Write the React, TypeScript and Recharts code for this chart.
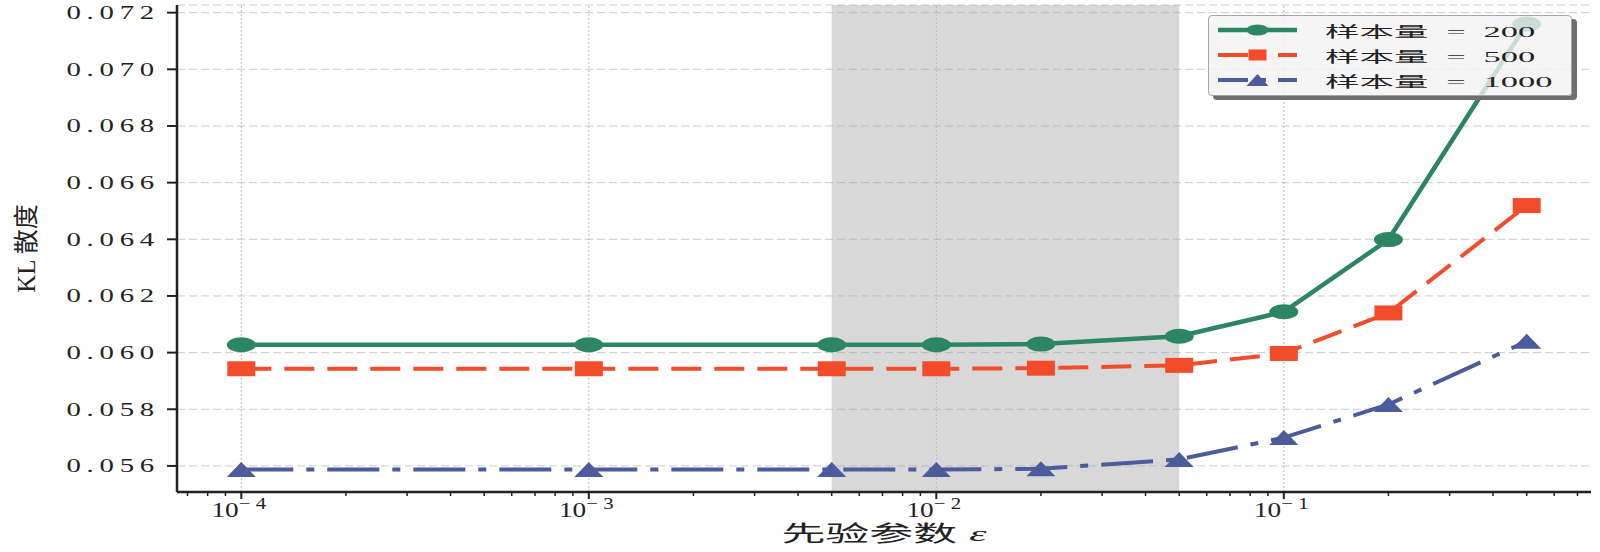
import React from 'react'
import {
  LineChart,
  Line,
  XAxis,
  YAxis,
  CartesianGrid,
  ReferenceArea,
  ReferenceLine,
  Legend,
  Label,
} from 'recharts'

const EPS = [1e-4, 1e-3, 5e-3, 1e-2, 2e-2, 5e-2, 1e-1, 2e-1, 5e-1]
const KL_200 = [0.06028, 0.06028, 0.06028, 0.06028, 0.0603, 0.06058, 0.06144, 0.06399, 0.0716]
const KL_500 = [0.05943, 0.05943, 0.05943, 0.05943, 0.05945, 0.05955, 0.05997, 0.0614, 0.06519]
const KL_1000 = [0.05587, 0.05587, 0.05587, 0.05587, 0.0559, 0.05623, 0.057, 0.05817, 0.0604]

const MAJOR_TICKS = [1e-4, 1e-3, 1e-2, 1e-1]
const MAJOR_EXPONENTS = ['−4', '−3', '−2', '−1']
const MINOR_TICKS = [
  7e-5, 8e-5, 9e-5,
  2e-4, 3e-4, 4e-4, 5e-4, 6e-4, 7e-4, 8e-4, 9e-4,
  2e-3, 3e-3, 4e-3, 5e-3, 6e-3, 7e-3, 8e-3, 9e-3,
  2e-2, 3e-2, 4e-2, 5e-2, 6e-2, 7e-2, 8e-2, 9e-2,
  2e-1, 3e-1, 4e-1, 5e-1, 6e-1, 7e-1,
]
const Y_TICKS = [0.056, 0.058, 0.06, 0.062, 0.064, 0.066, 0.068, 0.07, 0.072]
const X_DOMAIN = [6.53e-5, 0.7656]
const Y_DOMAIN = [0.05508, 0.07227]
const SHADE = [5e-3, 5e-2]

const X_LABEL = '先验参数'
const Y_LABEL = 'KL 散度'

const SERIES = [
  { key: 'n200', name: '样本量 = 200', color: '#2d8663', shape: 'circle', dash: undefined, width: 4.5 },
  { key: 'n500', name: '样本量 = 500', color: '#f24c2a', shape: 'square', dash: '30 13', width: 4 },
  { key: 'n1000', name: '样本量 = 1000', color: '#4b5b9b', shape: 'triangle', dash: '52 13 8 13', width: 4 },
]

const data = EPS.map((eps, i) => ({
  eps,
  n200: KL_200[i],
  n500: KL_500[i],
  n1000: KL_1000[i],
}))

const FONT = '"Liberation Serif", "Noto Sans CJK SC", serif'
const INK = '#222'

function Marker({ shape, cx, cy, color, w, h }: any) {
  if (shape === 'circle') return <ellipse cx={cx} cy={cy} rx={w / 2} ry={h / 2} fill={color} />
  if (shape === 'square') return <rect x={cx - w / 2} y={cy - h / 2} width={w} height={h} fill={color} />
  return (
    <polygon
      points={`${cx},${cy - h / 2} ${cx - w / 2},${cy + h / 2} ${cx + w / 2},${cy + h / 2}`}
      fill={color}
    />
  )
}

const makeDot = (s: any) => (p: any) => (
  <Marker key={p.key ?? `${s.key}-${p.index}`} shape={s.shape} cx={p.cx} cy={p.cy} color={s.color} w={s.shape === 'square' ? 28 : 29} h={15} />
)

function YTick({ x, y, payload }: any) {
  return (
    <text
      transform={`translate(${x},${y + 6.5}) scale(1.6,1)`}
      textAnchor="end"
      fontFamily={FONT}
      fontSize={18}
      fill={INK}
      style={{ letterSpacing: 3.6 }}
    >
      {payload.value.toFixed(3)}
    </text>
  )
}

function XTick({ x, y, payload }: any) {
  const i = MAJOR_TICKS.indexOf(payload.value)
  const major = i >= 0
  return (
    <g>
      <line x1={x} x2={x} y1={y} y2={y + (major ? 7 : 4)} stroke={INK} strokeWidth={major ? 2 : 1.5} />
      {major && (
        <text transform={`translate(${x},${y + 25}) scale(1.3,1)`} textAnchor="middle" fontFamily={FONT} fontSize={21} fill={INK}>
          10
          <tspan fontSize={16} dy={-8} style={{ letterSpacing: 4 }}>
            {MAJOR_EXPONENTS[i]}
          </tspan>
        </text>
      )}
    </g>
  )
}

function XLabel({ viewBox }: any) {
  const cx = viewBox.x + viewBox.width / 2
  return (
    <text transform={`translate(${cx},${viewBox.y + 49}) scale(2,1)`} textAnchor="middle" fontFamily={FONT} fontSize={22} fill={INK}>
      {X_LABEL}
      <tspan fontStyle="italic" dx={6}>ε</tspan>
    </text>
  )
}

function YLabel({ viewBox }: any) {
  const cy = viewBox.y + viewBox.height / 2
  return (
    <text transform={`translate(35,${cy}) rotate(-90)`} textAnchor="middle" fontFamily={FONT} fontSize={25} fill={INK}>
      {Y_LABEL}
    </text>
  )
}

function LegendBox() {
  return (
    <div
      style={{
        width: 364,
        height: 81,
        boxSizing: 'border-box',
        background: 'rgba(243,243,243,0.8)',
        border: '1.5px solid #a5a5a5',
        borderRadius: 4,
        boxShadow: '5px 4px 0 #6f6f6f',
      }}
    >
      <svg width={360} height={78} style={{ display: 'block' }}>
        {SERIES.map((s, i) => {
          const cy = 14 + i * 25
          return (
            <g key={s.key}>
              <line x1={9} x2={88} y1={cy} y2={cy} stroke={s.color} strokeWidth={s.width} strokeDasharray={s.dash ? '30 12 6 12' : undefined} />
              <Marker shape={s.shape} cx={48.5} cy={cy} color={s.color} w={s.shape === 'square' ? 18 : 22} h={s.shape === 'triangle' ? 12 : 11} />
              <text transform={`translate(116,${cy + 6.5}) scale(2.3,1)`} fontFamily={FONT} fontSize={15} fill={INK} style={{ wordSpacing: 4 }}>
                {s.name}
              </text>
            </g>
          )
        })}
      </svg>
    </div>
  )
}

export default function App() {
  return (
    <div style={{ position: 'absolute', left: 0, top: 0, width: 1600, height: 552, background: '#fff' }}>
      <LineChart width={1600} height={552} data={data} margin={{ top: 5, right: 9, left: 0, bottom: 0 }}>
        <CartesianGrid vertical={false} stroke="#cccccc" strokeDasharray="8 4" />
        <ReferenceArea x1={SHADE[0]} x2={SHADE[1]} fill="#a3a3a3" fillOpacity={0.42} stroke="none" ifOverflow="hidden" />
        {MAJOR_TICKS.map((t) => (
          <ReferenceLine key={t} x={t} stroke="#b8b8b8" strokeDasharray="2 2" strokeWidth={1} />
        ))}
        <XAxis
          dataKey="eps"
          type="number"
          scale="log"
          domain={X_DOMAIN}
          allowDataOverflow
          ticks={[...MAJOR_TICKS, ...MINOR_TICKS].sort((a, b) => a - b)}
          interval={0}
          tick={<XTick />}
          tickLine={false}
          tickSize={0}
          tickMargin={0}
          height={60}
          axisLine={{ stroke: INK, strokeWidth: 2.5 }}
        >
          <Label content={<XLabel />} />
        </XAxis>
        <YAxis
          type="number"
          domain={Y_DOMAIN}
          allowDataOverflow
          ticks={Y_TICKS}
          interval={0}
          width={177}
          tick={<YTick />}
          tickSize={10}
          tickMargin={7}
          tickLine={{ stroke: INK, strokeWidth: 2 }}
          axisLine={{ stroke: INK, strokeWidth: 2.5 }}
        >
          <Label content={<YLabel />} />
        </YAxis>
        {SERIES.map((s) => (
          <Line
            key={s.key}
            dataKey={s.key}
            name={s.name}
            type="linear"
            stroke={s.color}
            strokeWidth={s.width}
            strokeDasharray={s.dash}
            dot={makeDot(s)}
            activeDot={false}
            isAnimationActive={false}
          />
        ))}
        <Legend
          layout="vertical"
          align="center"
          verticalAlign="middle"
          content={<LegendBox />}
          wrapperStyle={{ position: 'absolute', left: 1208, top: 15, width: 'auto', height: 'auto' }}
        />
      </LineChart>
    </div>
  )
}
